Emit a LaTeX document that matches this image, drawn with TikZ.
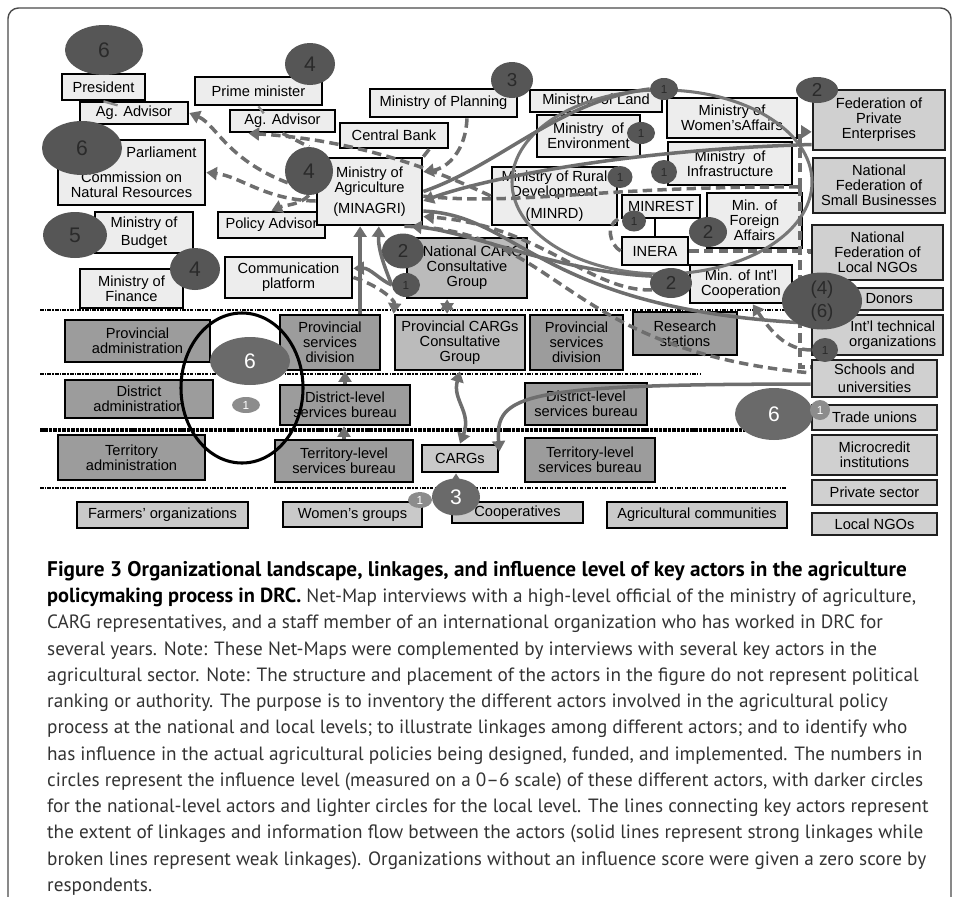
\documentclass[tikz,border=0pt]{standalone}
\usepackage{fontspec}
\setmainfont{Liberation Sans}
\newfontfamily\legendfont{PT Sans}
\usetikzlibrary{shapes.geometric,arrows.meta}

\definecolor{natfill}{HTML}{EDEDED}
\definecolor{outfill}{HTML}{D0D0D0}
\definecolor{provfill}{HTML}{9C9C9C}
\definecolor{cargfill}{HTML}{BBBBBB}
\definecolor{grassfill}{HTML}{C9C9C9}
\definecolor{infldark}{HTML}{565656}
\definecolor{inflink}{HTML}{2A2A2A}
\definecolor{infllocal}{HTML}{6A6A6A}
\definecolor{infllight}{HTML}{8C8C8C}
\definecolor{linkgray}{HTML}{6E6E6E}
\definecolor{loopgray}{HTML}{777777}
\definecolor{framegray}{HTML}{4A4A4A}
\definecolor{captext}{HTML}{333333}

\newcommand{\boxfont}{\fontsize{12.5}{12.8}\selectfont}
\newcommand{\bigdig}{\fontsize{18}{20}\selectfont}
\newcommand{\middig}{\fontsize{16}{19.5}\selectfont}
\newcommand{\onedig}{\fontsize{10}{11}\selectfont}
\newcommand{\headfont}{\fontsize{17.4}{22.4}\selectfont\bfseries\color{black}}
\newcommand{\titlefont}{\fontsize{18.1}{22.4}\selectfont\bfseries\color{black}}

\pgfdeclarelayer{front}
\pgfsetlayers{main,front}

\tikzset{
  wh/.style 2 args={minimum width=#1*0.03cm, minimum height=#2*0.03cm},
  actor/.style={draw=black, line width=2.3pt, fill=natfill, align=center, inner sep=1pt, font=\boxfont},
  outside/.style={actor, fill=outfill, draw=black!88},
  prov/.style={actor, fill=provfill},
  carg/.style={actor, fill=cargfill},
  grass/.style={actor, fill=grassfill},
  infl/.style={ellipse, fill=infldark, text=inflink, inner sep=0pt, font=\bigdig},
  one/.style={infl, font=\onedig},
  local/.style={infl, fill=infllocal, text=white},
  localone/.style={local, fill=infllight, font=\onedig},
  strong/.style={draw=linkgray, line width=3pt},
  weak/.style={draw=linkgray, line width=3pt, dash pattern=on 8pt off 4.5pt},
  stub/.style={draw=black!45, line width=2pt},
  sepline/.style={draw=black, line width=1.8pt, dash pattern=on 3pt off 1.2pt on 1pt off 1.2pt},
  >={Triangle[length=9pt,width=11pt]},
}

\begin{document}
\begin{tikzpicture}[x=0.03cm, y=-0.03cm]
  \useasboundingbox (0,0) rectangle (959,896);
  \draw[framegray, line width=1.2pt, rounded corners=9pt] (8,8) rectangle (951,940);

  % level separators
  \draw[sepline] (40,310) -- (787,310);
  \draw[sepline] (40,374) -- (700,374);
  \draw[sepline, line width=3pt, dash pattern=on 3pt off 0.8pt] (40,430) -- (745,430);
  \draw[sepline] (40,488) -- (787,488);

  % national level
  \node[actor, wh={83}{26}] (pres) at (103.5,87) {President};
  \node[actor, wh={108}{22}] (agadvA) at (134,113) {Ag. Advisor};
  \node[actor, wh={127}{28}] (pm) at (258.5,91) {Prime minister};
  \node[actor, wh={105}{22}] (agadvB) at (282.5,121) {Ag. Advisor};
  \node[actor, wh={147}{65}] (parl) at (131.5,172.5) {\hspace*{51pt}Parliament\\[8.5pt]Commission on\\Natural Resources};
  \node[actor, wh={98}{41}] (budget) at (144,232.5) {Ministry of\\[3pt]Budget};
  \node[actor, wh={103}{39}] (finance) at (131.5,288.5) {Ministry of\\Finance};
  \node[actor, wh={107}{26}] (poladv) at (271.5,225) {Policy Advisor};
  \node[actor, wh={127}{41}] (comm) at (288.5,277.5) {Communication\\platform};
  \node[actor, wh={105}{67}] (minagri) at (369.5,191.5) {Ministry of\\Agriculture\\[5pt](MINAGRI)};
  \node[actor, wh={147}{28}] (plan) at (443.5,103) {Ministry of Planning};
  \node[actor, wh={108}{25}] (cbank) at (394,135.5) {Central Bank};
  \node[actor, wh={132}{22}] (land) at (596,101) {Ministry\ \ of Land};
  \node[actor, wh={103}{42}] (env) at (588.5,136) {Ministry\ \ of\\Environment};
  \node[actor, wh={125}{58}] (minrd) at (554.5,196) {Ministry of Rural\\Development\\[6pt](MINRD)};
  \node[actor, wh={130}{40}] (women) at (732,118) {Ministry of\\Women’sAffairs};
  \node[actor, wh={124}{43}] (infra) at (730,163.5) {Ministry\ \ of\\Infrastructure};
  \node[actor, wh={78}{23}] (minrest) at (661,206.5) {MINREST};
  \node[actor, wh={95}{55}] (foreign) at (754.5,220.5) {Min. of\\Foreign\\Affairs};
  \node[actor, wh={66}{28}] (inera) at (655,251) {INERA};
  \node[actor, wh={102}{38}] (intlcoop) at (741,284) {Min. of Int’l\\Cooperation};

  % outside government
  \node[outside, wh={132}{60}] (fedpriv) at (879,120) {Federation of\\Private\\Enterprises};
  \node[outside, wh={132}{55}] (nfsb) at (879,185.5) {National\\Federation of\\Small Businesses};
  \node[outside, wh={131}{55}] (nflngo) at (877.5,252.5) {National\\Federation of\\Local NGOs};
  \node[outside, wh={131}{22}] (donors) at (877.5,299) {\hspace*{20pt}Donors};
  \node[outside, wh={131}{40}] (intltech) at (877.5,335) {\hspace*{26pt}Int’l technical\\\hspace*{26pt}organizations};
  \node[outside, wh={125}{37}] (schools) at (874.5,378.5) {Schools and\\[3pt]universities};
  \node[outside, wh={125}{25}] (trade) at (874.5,417.5) {Trade unions};
  \node[outside, wh={125}{40}] (micro) at (874.5,455) {Microcredit\\institutions};
  \node[outside, wh={125}{25}] (privsec) at (874.5,492.5) {Private sector};
  \node[outside, wh={125}{22}] (localngo) at (874.5,524) {Local NGOs};

  % provincial, district, territory levels
  \node[carg, wh={120}{60}] (natcarg) at (467,268) {\hspace*{10pt}National CARG\\Consultative\\Group};
  \node[prov, wh={145}{42}] (provadm) at (137.5,341) {Provincial\\administration};
  \node[prov, wh={100}{55}] (provsvcA) at (330,342.5) {Provincial\\services\\division};
  \node[carg, wh={130}{55}] (provcarg) at (460,342.5) {Provincial CARGs\\Consultative\\Group};
  \node[prov, wh={93}{55}] (provsvcB) at (576.5,342.5) {Provincial\\services\\division};
  \node[prov, wh={104}{43}] (research) at (685,333.5) {Research\\stations};
  \node[prov, wh={148}{38}] (distadm) at (139,399) {District\\administration};
  \node[prov, wh={130}{40}] (distsvcA) at (345,405) {District-level\\services bureau};
  \node[prov, wh={122}{42}] (distsvcB) at (586,404) {District-level\\services bureau};
  \node[prov, wh={147}{45}] (teradm) at (131.5,457.5) {Territory\\administration};
  \node[prov, wh={138}{42}] (tersvcA) at (344,461) {Territory-level\\services bureau};
  \node[grass, wh={76}{27}] (cargs) at (460,458.5) {CARGs};
  \node[prov, wh={130}{44}] (tersvcB) at (590,460) {Territory-level\\services bureau};

  % community level
  \node[grass, wh={171}{26}] (farmers) at (162.5,515) {Farmers’ organizations};
  \node[grass, wh={139}{25}] (womeng) at (352.5,514.5) {Women’s groups};
  \node[grass, wh={131}{21}] (coop) at (517.5,512.5) {Cooperatives};
  \node[grass, wh={180}{26}] (agcomm) at (697,515) {Agricultural communities};

  % influence circles
  \begin{pgfonlayer}{front}
    \node[infl, wh={78}{50}] (ipres) at (104,50) {6};
    \node[infl, wh={80}{54}] (iparl) at (82,148) {6};
    \node[infl, wh={50}{42}] (ipm) at (310,64) {4};
    \node[infl, wh={48}{48}] (iagri) at (309,171) {4};
    \node[infl, wh={64}{46}] (ibudget) at (75,235) {5};
    \node[infl, wh={50}{42}] (ifin) at (195,269) {4};
    \node[infl, wh={42}{36}, font=\middig] (iplan) at (512,80) {3};
    \node[one, wh={28}{22}] (iland) at (664,89) {1};
    \node[one, wh={28}{22}] (ienv) at (641,133) {1};
    \node[one, wh={26}{24}] (iinfra) at (664,172) {1};
    \node[one, wh={25}{22}] (iminrd) at (620,177) {1};
    \node[one, wh={24}{21}] (iminrest) at (634,221) {1};
    \node[infl, wh={42}{26}, font=\middig] (ifed) at (817,90) {2};
    \node[infl, wh={38}{30}, font=\middig] (iforeign) at (708,232) {2};
    \node[infl, wh={42}{30}, font=\middig] (iintl) at (671,283) {2};
    \node[infl, wh={80}{57}, font=\middig, align=center] (idonor) at (822,301) {(4)\\(6)};
    \node[one, wh={26}{24}] (ischool) at (825,350) {1};
    \node[infl, wh={42}{35}, font=\middig] (incarg) at (403,251) {2};
    \node[one, wh={28}{24}] (incargB) at (406,285) {1};
    \node[local, wh={80}{48}] (iprov) at (250,361) {6};
    \node[localone, wh={28}{16}] (idist) at (246,405) {1};
    \node[local, wh={78}{52}] (itrade) at (774,414) {6};
    \node[localone, wh={20}{20}] (itradeB) at (820,410) {1};
    \node[local, wh={48}{37}] (icarg) at (456,497) {3};
    \node[localone, wh={24}{16}] (iwomen) at (420,500) {1};
  \end{pgfonlayer}

  % hand-drawn loops
  \draw[loopgray, line width=2.6pt] (662,182) ellipse [x radius=4.5cm, y radius=2.76cm];
  \draw[black, line width=2.6pt] (242,388) ellipse [x radius=1.83cm, y radius=2.25cm];

  % strong linkages
  \draw[strong,->] (fedpriv.200) .. controls (620,150) and (480,180) .. (minagri.-10);
  \draw[strong] (iland.west) .. controls (560,100) and (500,165) .. (minagri.east);
  \draw[strong,->] (iintl.160) .. controls (560,272) and (470,232) .. (minagri.-40);
  \draw[strong] (minagri.-20) .. controls (520,215) and (540,310) .. (intltech.170);
  \draw[strong,->] ([xshift=-8pt]minagri.south |- provsvcA.north) -- ([xshift=-8pt]minagri.south);
  \draw[strong,->] (incargB.west) .. controls (385,268) and (378,250) .. (minagri.-75);
  \draw[strong,->] (incargB.west) .. controls (380,280) and (370,268) .. (comm.8);
  \draw[strong,<->] ([xshift=-17pt]natcarg.south) -- ([xshift=-17pt]natcarg.south |- provcarg.north);
  \draw[strong,<->] (provcarg.south) .. controls (452,400) and (472,412) .. (cargs.north);
  \draw[strong,->] (schools.-175) .. controls (520,384) and (495,395) .. (cargs.10);
  \draw[strong,->] (distsvcA.north) -- (distsvcA.north |- provsvcA.south);
  \draw[strong,->] (tersvcA.north) -- (tersvcA.north |- distsvcA.south);
  \draw[strong,->] (icarg.north) -- (icarg.north |- cargs.south);
  \draw[line width=1.4pt] (inera.north) -- (inera.north |- minrest.south);
  \draw[stub] (pres.south) -- ([xshift=-14pt,yshift=-4pt]agadvA.north);
  \draw[stub] (pm.south) -- ([xshift=-16pt,yshift=-4pt]agadvB.north);

  % weak linkages
  \draw[weak,->] (minagri.west) .. controls (230,170) and (218,125) .. (agadvA.east);
  \draw[weak,->] (minagri.190) .. controls (265,200) and (240,176) .. (parl.east);
  \draw[weak,->] (minrd.west) .. controls (440,172) and (360,140) .. (agadvB.-160);
  \draw[weak,->] ([xshift=20pt]plan.south) .. controls (466,150) and (448,168) .. (minagri.20);
  \draw[weak] ([xshift=30pt]cbank.south) -- (minagri.north east);
  \draw[weak,->] (iagri.south) .. controls (300,205) and (285,205) .. (poladv.north);
  \draw[weak] (agadvB.south) -- (iagri.north);
  \coordinate (bus) at (800,187);
  \draw[weak] (minagri.-5) .. controls (520,206) and (600,186) .. (bus);
  \draw[weak,->] (bus) |- (fedpriv.-170);
  \draw[weak] (bus) |- (nflngo.west);
  \draw[weak] (bus) |- (schools.170);
  \draw[weak] (inera.east) -- (inera.east -| nflngo.west);
  \draw[weak,->] (iintl.200) .. controls (590,292) and (540,225) .. (minagri.-25);
  \draw[weak] (minagri.-45) .. controls (560,228) and (560,350) .. (schools.175);
  \draw[weak,<-] (intlcoop.-60) .. controls (770,330) and (785,350) .. (ischool.west);
  \draw[weak,->] (comm.east) .. controls (378,285) and (395,300) .. (provcarg.north west);
  \draw[weak] (minrd.-20) .. controls (605,225) and (610,245) .. (inera.west);

  % caption
  \node[anchor=north west, align=left, inner sep=0pt, text=captext,
        font=\legendfont\fontsize{16.4}{22.4}\selectfont] (caption) at (47,561)
  {{\titlefont Figure 3 Organizational landscape, linkages, and influence level of key actors in the agriculture}\\
   {\headfont policymaking process in DRC.} Net-Map interviews with a high-level official of the ministry of agriculture,\\
   CARG representatives, and a staff member of an international organization who has worked in DRC for\\
   several years. Note: These Net-Maps were complemented by interviews with several key actors in the\\
   agricultural sector. Note: The structure and placement of the actors in the figure do not represent political\\
   ranking or authority. The purpose is to inventory the different actors involved in the agricultural policy\\
   process at the national and local levels; to illustrate linkages among different actors; and to identify who\\
   has influence in the actual agricultural policies being designed, funded, and implemented. The numbers in\\
   circles represent the influence level (measured on a 0–6 scale) of these different actors, with darker circles\\
   for the national-level actors and lighter circles for the local level. The lines connecting key actors represent\\
   the extent of linkages and information flow between the actors (solid lines represent strong linkages while\\
   broken lines represent weak linkages). Organizations without an influence score were given a zero score by\\
   respondents.};
\end{tikzpicture}
\end{document}
